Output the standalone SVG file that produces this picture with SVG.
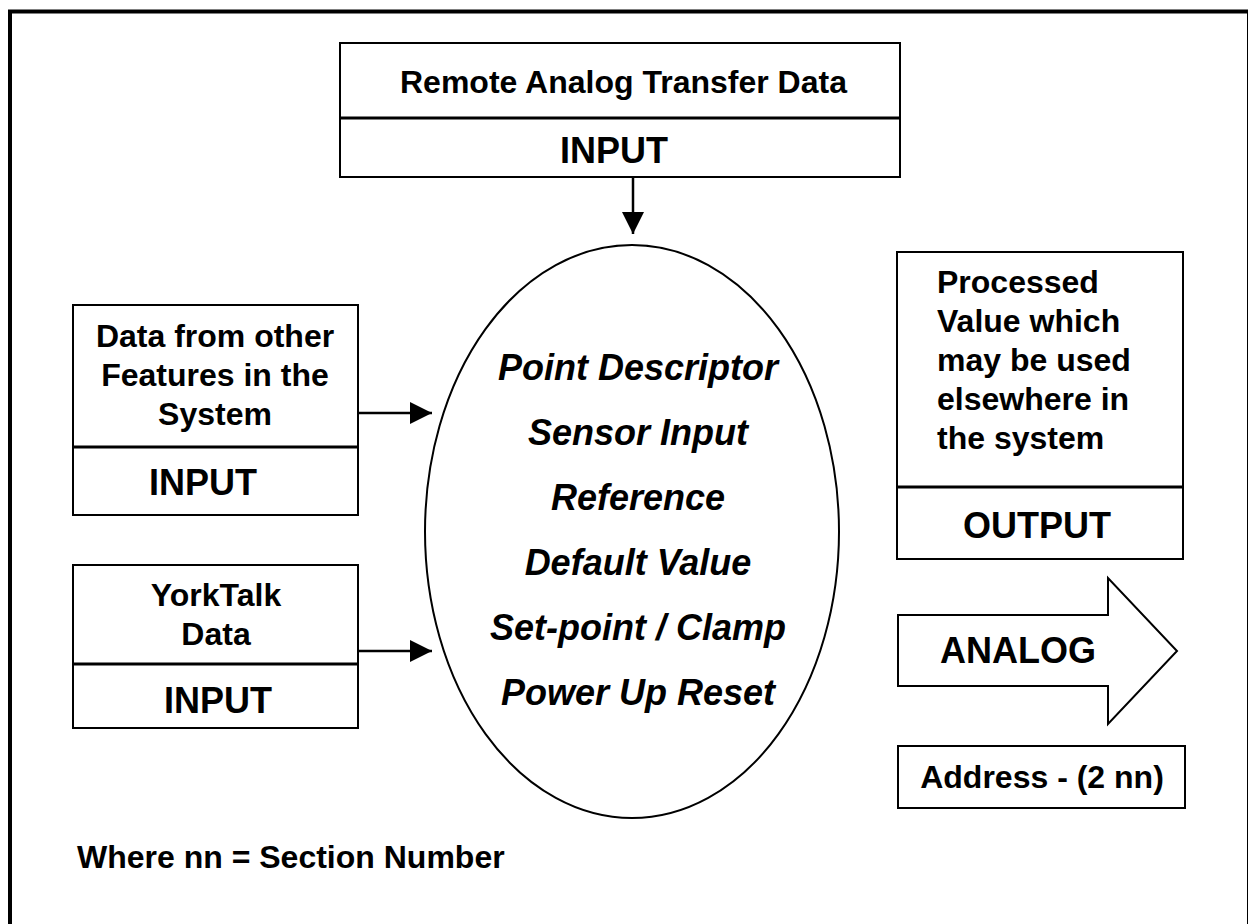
<svg xmlns="http://www.w3.org/2000/svg" width="1248" height="924" viewBox="0 0 1248 924">
<defs>
<style>
.box{fill:#fff;stroke:#000;stroke-width:2}
.div{stroke:#000;stroke-width:3}
.t{font-family:"Liberation Sans",Arial,sans-serif;font-weight:bold;fill:#000}
.s32{font-size:32px}
.s36{font-size:36px}
.c{text-anchor:middle}
.it{font-style:italic;font-size:36px;text-anchor:middle}
.con{stroke:#000;stroke-width:2.5;fill:none}
</style>
<marker id="ah" viewBox="0 0 10 10" refX="10" refY="5" markerWidth="22" markerHeight="22" markerUnits="userSpaceOnUse" orient="auto">
<path d="M0,0 L10,5 L0,10 Z" fill="#000"/>
</marker>
</defs>
<rect x="0" y="0" width="1248" height="924" fill="#fff"/>
<rect id="frame" x="10" y="11.5" width="1239" height="930" fill="none" stroke="#000" stroke-width="4"/>

<g id="remote-input">
<rect class="box" x="340" y="43" width="560" height="134"/>
<line class="div" x1="340" y1="118" x2="900" y2="118"/>
<text class="t s32" x="400" y="93">Remote Analog Transfer Data</text>
<text class="t s36 c" x="614" y="163">INPUT</text>
</g>

<g id="features-input">
<rect class="box" x="73" y="305" width="285" height="210"/>
<line class="div" x1="73" y1="447" x2="358" y2="447"/>
<text class="t s32 c" x="215" y="347">Data from other</text>
<text class="t s32 c" x="215" y="386">Features in the</text>
<text class="t s32 c" x="215" y="425">System</text>
<text class="t s36 c" x="203" y="495">INPUT</text>
</g>

<g id="yorktalk-input">
<rect class="box" x="73" y="565" width="285" height="163"/>
<line class="div" x1="73" y1="664" x2="358" y2="664"/>
<text class="t s32 c" x="216" y="606">YorkTalk</text>
<text class="t s32 c" x="216" y="645">Data</text>
<text class="t s36 c" x="218" y="713">INPUT</text>
</g>

<g id="analog-point">
<ellipse cx="632" cy="531.5" rx="207" ry="286.5" fill="#fff" stroke="#000" stroke-width="2"/>
<text class="t it" x="638" y="380">Point Descriptor</text>
<text class="t it" x="638" y="445">Sensor Input</text>
<text class="t it" x="638" y="510">Reference</text>
<text class="t it" x="638" y="575">Default Value</text>
<text class="t it" x="638" y="640">Set-point / Clamp</text>
<text class="t it" x="638" y="705">Power Up Reset</text>
</g>

<g id="output">
<rect class="box" x="897" y="252" width="286" height="307"/>
<line class="div" x1="897" y1="487" x2="1183" y2="487"/>
<text class="t s32" x="937" y="293">Processed</text>
<text class="t s32" x="937" y="332">Value which</text>
<text class="t s32" x="937" y="371">may be used</text>
<text class="t s32" x="937" y="410">elsewhere in</text>
<text class="t s32" x="937" y="449">the system</text>
<text class="t s36 c" x="1037" y="538">OUTPUT</text>
</g>

<g id="analog-arrow">
<path d="M898,615 L1108,615 L1108,578 L1177,651 L1108,724 L1108,686 L898,686 Z" fill="#fff" stroke="#000" stroke-width="2" stroke-linejoin="miter"/>
<text class="t s36 c" x="1018" y="663">ANALOG</text>
</g>

<g id="address">
<rect class="box" x="898" y="746" width="287" height="62"/>
<text class="t s32 c" x="1042" y="788">Address - (2 nn)</text>
</g>

<g id="note">
<text class="t s32" x="77" y="868">Where nn = Section Number</text>
</g>

<g id="connectors">
<line class="con" x1="633" y1="177" x2="633" y2="234" marker-end="url(#ah)"/>
<line class="con" x1="358" y1="413" x2="432" y2="413" marker-end="url(#ah)"/>
<line class="con" x1="358" y1="651" x2="432" y2="651" marker-end="url(#ah)"/>
</g>
</svg>
